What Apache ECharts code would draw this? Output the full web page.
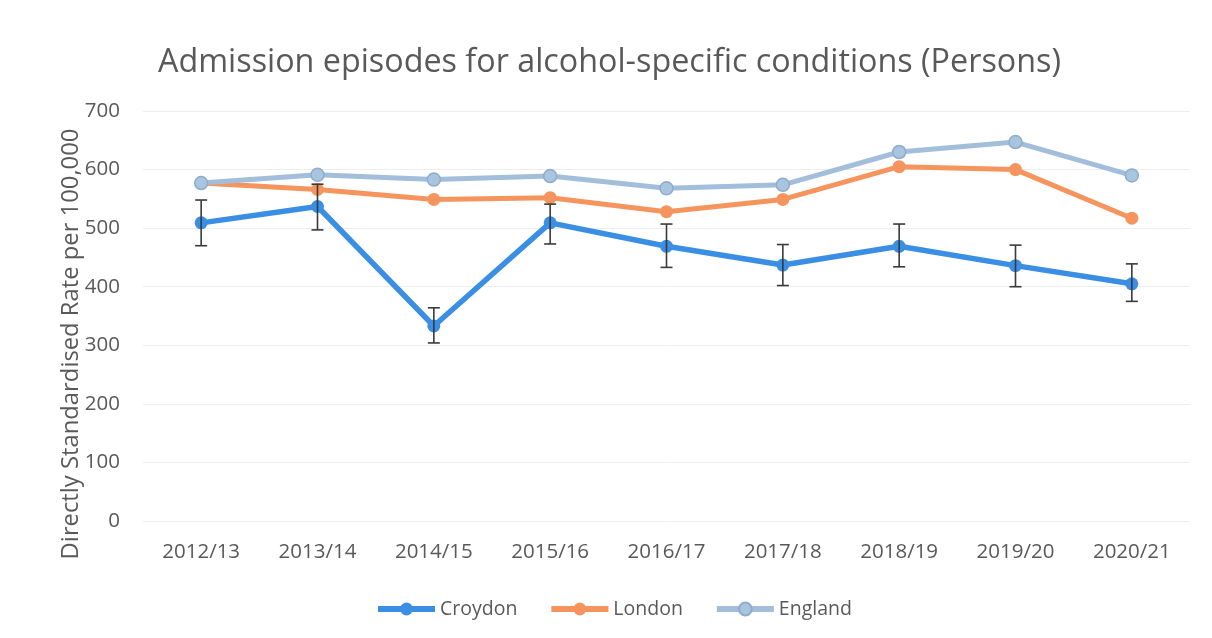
<!DOCTYPE html>
<html>
<head>
<meta charset="utf-8">
<script src="https://cdn.jsdelivr.net/npm/echarts@6/dist/echarts.min.js"></script>
<style>
  html, body { margin: 0; padding: 0; background: #fff; }
  #chart { width: 1212px; height: 638px; }
</style>
</head>
<body>
<div id="chart"></div>
<script>
// 연도 구분
const years = ['2012/13', '2013/14', '2014/15', '2015/16', '2016/17', '2017/18', '2018/19', '2019/20', '2020/21'];

// 시리즈 값
const croydon      = [509, 537, 333, 509, 469, 437, 469, 436, 405];
const croydonLower = [470, 497, 304, 473, 433, 402, 434, 400, 375];
const croydonUpper = [548, 575, 364, 541, 507, 472, 507, 471, 439];
const london       = [577, 566, 549, 552, 528, 549, 605, 600, 517];
const england      = [577, 591, 583, 589, 568, 574, 630, 647, 590];

// y축 눈금
const yTicks = [0, 100, 200, 300, 400, 500, 600, 700];

const font = 'Open Sans';
const textColor = '#595959';

// 오차 막대 데이터
let errData = [];
years.forEach((y, i) => {
	errData.push([i, croydonLower[i], croydonUpper[i]]);
});

function renderErr(params, api) {
	const low  = api.coord([api.value(0), api.value(1)]);
	const high = api.coord([api.value(0), api.value(2)]);
	const cap = 6;
	const style = { stroke: '#3a3a3a', lineWidth: 1.6 };
	return {
		type: 'group',
		children: [
			{ type: 'line', shape: { x1: low[0], y1: low[1], x2: high[0], y2: high[1] }, style: style },
			{ type: 'line', shape: { x1: low[0] - cap, y1: low[1], x2: low[0] + cap, y2: low[1] }, style: style },
			{ type: 'line', shape: { x1: high[0] - cap, y1: high[1], x2: high[0] + cap, y2: high[1] }, style: style }
		]
	};
}

var myChart = echarts.init(document.getElementById('chart'));

var option = {
	backgroundColor: '#ffffff',
	animation: false,
	title: {
		text: 'Admission episodes for alcohol-specific conditions (Persons)',
		left: 153,
		top: 42,
		textStyle: { fontFamily: font, fontSize: 32.3, fontWeight: 'normal', color: textColor }
	},
	//y축 제목 (세로)
	graphic: [
		{
			type: 'text',
			x: 71,
			y: 344,
			rotation: Math.PI / 2,
			style: {
				text: 'Directly Standardised Rate per 100,000',
				fontFamily: font,
				fontSize: 23.8,
				fill: textColor,
				align: 'center',
				verticalAlign: 'middle'
			}
		}
	],
	grid: { left: 143, right: 22, top: 111, bottom: 117 },
	legend: {
		bottom: 14,
		left: 370,
		itemWidth: 57,
		itemHeight: 16,
		itemGap: 31,
		lineStyle: { width: 6 },
		textStyle: { fontFamily: font, fontSize: 19.5, color: textColor },
		data: ['Croydon', 'London', 'England']
	},
	xAxis: {
		type: 'category',
		data: years,
		boundaryGap: true,
		axisLine: { show: false },
		axisTick: { show: false },
		axisLabel: { fontFamily: font, fontSize: 20.5, color: textColor, margin: 21 }
	},
	yAxis: {
		type: 'value',
		min: 0,
		max: 700,
		interval: 100,
		axisLabel: {
			fontFamily: font, fontSize: 20.5, color: textColor, margin: 23,
			formatter: (v) => yTicks.indexOf(v) >= 0 ? String(v) : ''
		},
		splitLine: { lineStyle: { color: '#eeeeee', width: 1 } }
	},
	series: [
		{
			name: 'Croydon',
			type: 'line',
			data: croydon,
			symbol: 'circle',
			symbolSize: 13,
			lineStyle: { color: '#3a8ee3', width: 5.5 },
			itemStyle: { color: '#3a8ee3' },
			z: 3
		},
		{
			name: 'London',
			type: 'line',
			data: london,
			symbol: 'circle',
			symbolSize: 13,
			lineStyle: { color: '#f5955d', width: 5 },
			itemStyle: { color: '#f5955d' },
			z: 4
		},
		{
			name: 'England',
			type: 'line',
			data: england,
			symbol: 'circle',
			symbolSize: 13,
			lineStyle: { color: '#a2bedb', width: 5 },
			itemStyle: { color: '#a9c4df', borderColor: '#8eaccb', borderWidth: 1.5 },
			z: 5
		},
		{
			type: 'custom',
			renderItem: renderErr,
			data: errData,
			encode: { x: 0, y: [1, 2] },
			z: 6,
			silent: true
		}
	]
};

myChart.setOption(option);
</script>
</body>
</html>
